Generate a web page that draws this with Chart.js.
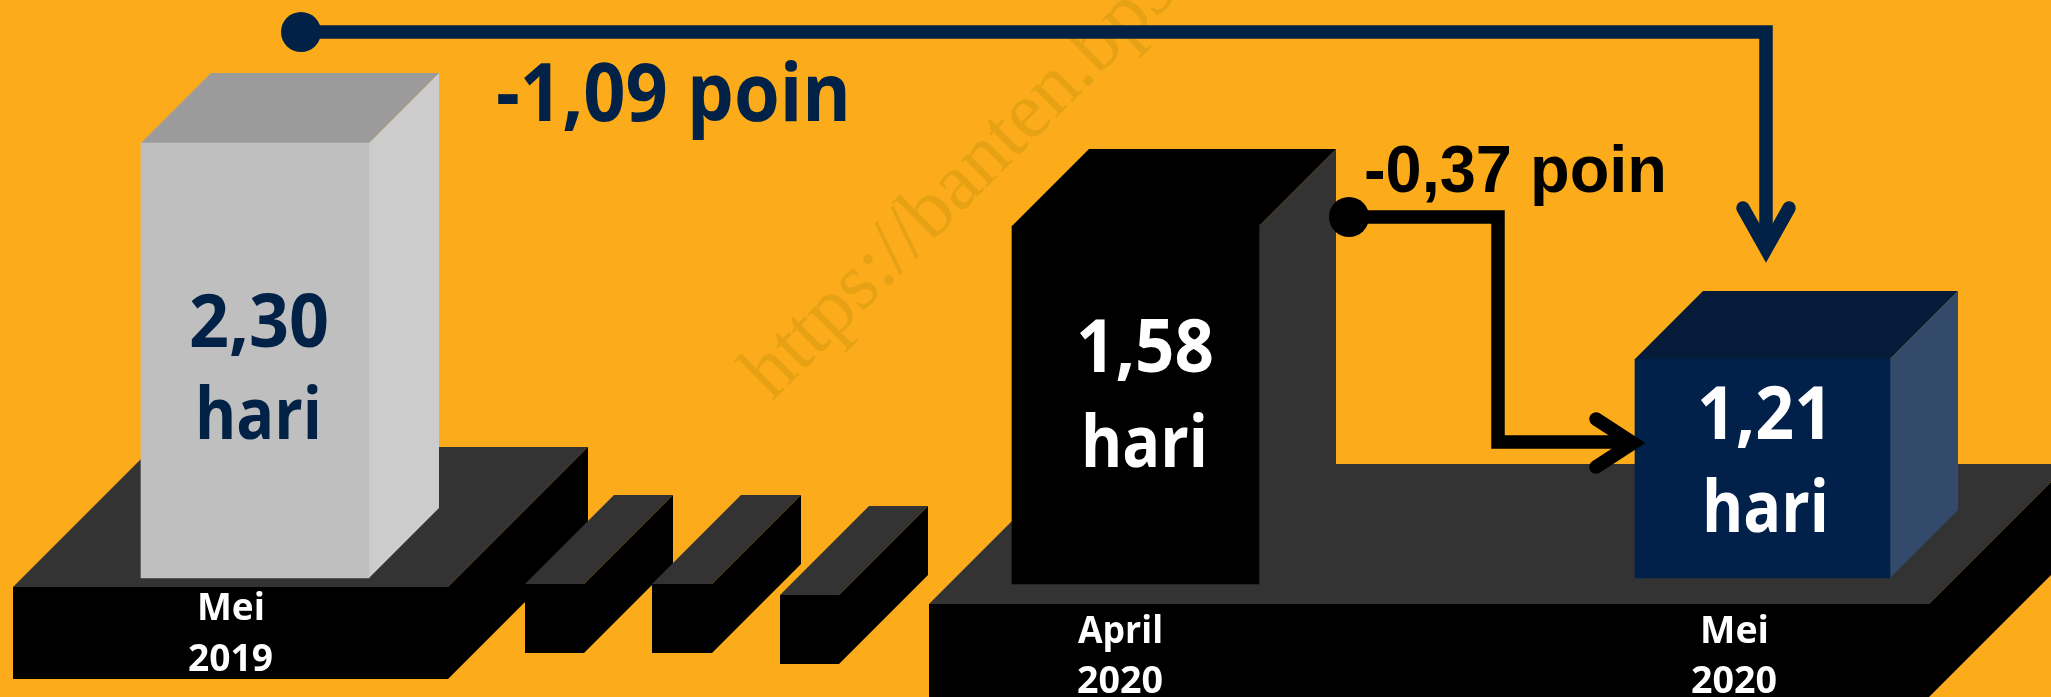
<!DOCTYPE html>
<html>
<head>
<meta charset="utf-8">
<title>Rata-rata menginap</title>
<script src="https://cdn.jsdelivr.net/npm/chart.js@4"></script>
<style>
  html, body { margin: 0; padding: 0; background: #fcac1b; overflow: hidden; }
  canvas { display: block; }
</style>
</head>
<body>
<canvas id="chart" width="2051" height="697"></canvas>
<script>
const categories = ["Mei 2019", "April 2020", "Mei 2020"];
const values = [2.30, 1.58, 1.21];
const changes = ["-1,09 poin", "-0,37 poin"];
const unit = "hari";

const W = 2051, H = 697;
const NAVY = "#012146";
const BLACK = "#000000";
const DARK = "#333333";
const SANS = '"Open Sans"';

// where each bar sits in the picture (left, right, top, bottom, 3d depth)
const bars = [
  { left: 141, right: 369, top: 143, bottom: 578, depth: 70, front: "#bfbfbf", topFace: "#9b9b9b", side: "#cccccc", ink: NAVY },
  { left: 1012, right: 1259, top: 226, bottom: 584, depth: 77, front: BLACK, topFace: BLACK, side: DARK, ink: "#ffffff" },
  { left: 1635, right: 1890, top: 359, bottom: 578, depth: 68, front: "#01204a", topFace: "#061a3a", side: "#344a6b", ink: "#ffffff" }
];

// floor slabs under the bars and the broken axis pieces between them
const slabs = [
  { left: 13, right: 448, top: 587, bottom: 679, depth: 140 },
  { left: 525, right: 584, top: 584, bottom: 653, depth: 89 },
  { left: 652, right: 712, top: 584, bottom: 653, depth: 89 },
  { left: 780, right: 839, top: 595, bottom: 664, depth: 89 },
  { left: 929, right: 1929, top: 604, bottom: 697, depth: 140 }
];

// [text, x, baseline, size, fitted width, colour]
const valueText = values.map(v => v.toFixed(2).replace(".", ","));
const texts = [
  [valueText[0], 189, 347, 74, 140, NAVY],
  [unit, 195, 439, 72, 127, NAVY],
  [valueText[1], 1076, 372, 74, 138, "#ffffff"],
  [unit, 1081, 467, 72, 127, "#ffffff"],
  [valueText[2], 1697, 439, 74, 136, "#ffffff"],
  [unit, 1702, 532, 72, 127, "#ffffff"],
  ["Mei", 197, 620, 38, 68, "#ffffff"],
  ["2019", 188, 671, 38, 85, "#ffffff"],
  ["April", 1078, 643, 38, 85, "#ffffff"],
  ["2020", 1077, 693, 38, 86, "#ffffff"],
  ["Mei", 1700, 643, 38, 69, "#ffffff"],
  ["2020", 1691, 693, 38, 86, "#ffffff"]
];

function poly(ctx, pts, fill) {
  ctx.fillStyle = fill;
  ctx.beginPath();
  pts.forEach((p, i) => i ? ctx.lineTo(p[0], p[1]) : ctx.moveTo(p[0], p[1]));
  ctx.closePath();
  ctx.fill();
}

function drawSlab(ctx, s) {
  const d = s.depth;
  poly(ctx, [[s.left, s.top], [s.left + d, s.top - d], [s.right + d, s.top - d], [s.right, s.top]], DARK);
  poly(ctx, [[s.right, s.top], [s.right + d, s.top - d], [s.right + d, s.bottom - d], [s.right, s.bottom]], BLACK);
  ctx.fillStyle = BLACK;
  ctx.fillRect(s.left, s.top, s.right - s.left, s.bottom - s.top);
}

function drawConnector(ctx, pts, dot, head, color) {
  ctx.strokeStyle = color;
  ctx.fillStyle = color;
  ctx.lineWidth = 13.5;
  ctx.lineCap = "butt";
  ctx.lineJoin = "miter";
  ctx.beginPath();
  pts.forEach((p, i) => i ? ctx.lineTo(p[0], p[1]) : ctx.moveTo(p[0], p[1]));
  ctx.stroke();
  ctx.beginPath();
  ctx.arc(dot[0], dot[1], 20, 0, Math.PI * 2);
  ctx.fill();
  ctx.lineCap = "round";
  ctx.beginPath();
  ctx.moveTo(head[0][0], head[0][1]);
  ctx.lineTo(head[1][0], head[1][1]);
  ctx.lineTo(head[2][0], head[2][1]);
  ctx.stroke();
}

const scene = {
  id: "scene",
  beforeDatasetsDraw(chart) {
    const ctx = chart.ctx;
    ctx.save();
    ctx.fillStyle = "#fcac1b";
    ctx.fillRect(0, 0, W, H);

    // watermark
    ctx.save();
    ctx.translate(772, 402);
    ctx.rotate(-Math.PI / 4);
    ctx.font = '81px "Liberation Serif"';
    ctx.fillStyle = "#e6a214";
    ctx.fillText("https://banten.bps.go.id", 0, 0);
    ctx.restore();

    slabs.forEach(s => drawSlab(ctx, s));

    // top and side faces hang off the bars chart.js placed
    chart.data.datasets.forEach((ds, i) => {
      const el = chart.getDatasetMeta(i).data[0];
      const b = bars[i], d = b.depth;
      const l = el.x - el.width / 2, r = el.x + el.width / 2;
      poly(ctx, [[r, el.y], [r + d, el.y - d], [r + d, el.base - d], [r, el.base]], b.side);
      poly(ctx, [[l, el.y], [l + d, el.y - d], [r + d, el.y - d], [r, el.y]], b.topFace);
    });
    ctx.restore();
  },
  afterDatasetsDraw(chart) {
    const ctx = chart.ctx;
    ctx.save();
    drawConnector(ctx, [[301, 32], [1766, 32], [1766, 250]], [301, 32],
      [[1743, 208], [1766, 249], [1789, 208]], NAVY);
    drawConnector(ctx, [[1349, 217], [1498, 217], [1498, 442], [1630, 442]], [1349, 217],
      [[1596, 419], [1633, 443], [1596, 467]], BLACK);

    ctx.textBaseline = "alphabetic";
    ctx.textAlign = "left";
    ctx.fillStyle = NAVY;
    ctx.font = "bold 80px " + SANS;
    ctx.fillText(changes[0], 496, 121, 355);
    ctx.fillStyle = BLACK;
    ctx.font = 'bold 66px "Liberation Sans"';
    ctx.fillText(changes[1], 1364, 192, 303);

    texts.forEach(t => {
      ctx.font = "bold " + t[3] + "px " + SANS;
      ctx.fillStyle = t[5];
      ctx.fillText(t[0], t[1], t[2], t[4]);
    });
    ctx.restore();
  }
};

// each bar has its own hidden y axis because the drawing is not to one scale
const scales = {
  x: { type: "linear", display: false, offset: false, min: 0, max: W }
};
const datasets = categories.map((name, i) => {
  const b = bars[i];
  const perPx = values[i] / (b.bottom - b.top);
  scales["y" + i] = {
    type: "linear",
    display: false,
    min: -(H - b.bottom) * perPx,
    max: b.bottom * perPx
  };
  return {
    label: name,
    yAxisID: "y" + i,
    data: [{ x: (b.left + b.right) / 2, y: values[i] }],
    barThickness: b.right - b.left,
    backgroundColor: b.front,
    borderWidth: 0,
    grouped: false
  };
});

new Chart(document.getElementById("chart"), {
  type: "bar",
  data: { datasets },
  options: {
    responsive: false,
    animation: false,
    layout: { padding: 0 },
    scales,
    plugins: {
      legend: { display: false },
      title: { display: false },
      tooltip: { enabled: false }
    }
  },
  plugins: [scene]
});
</script>
</body>
</html>
